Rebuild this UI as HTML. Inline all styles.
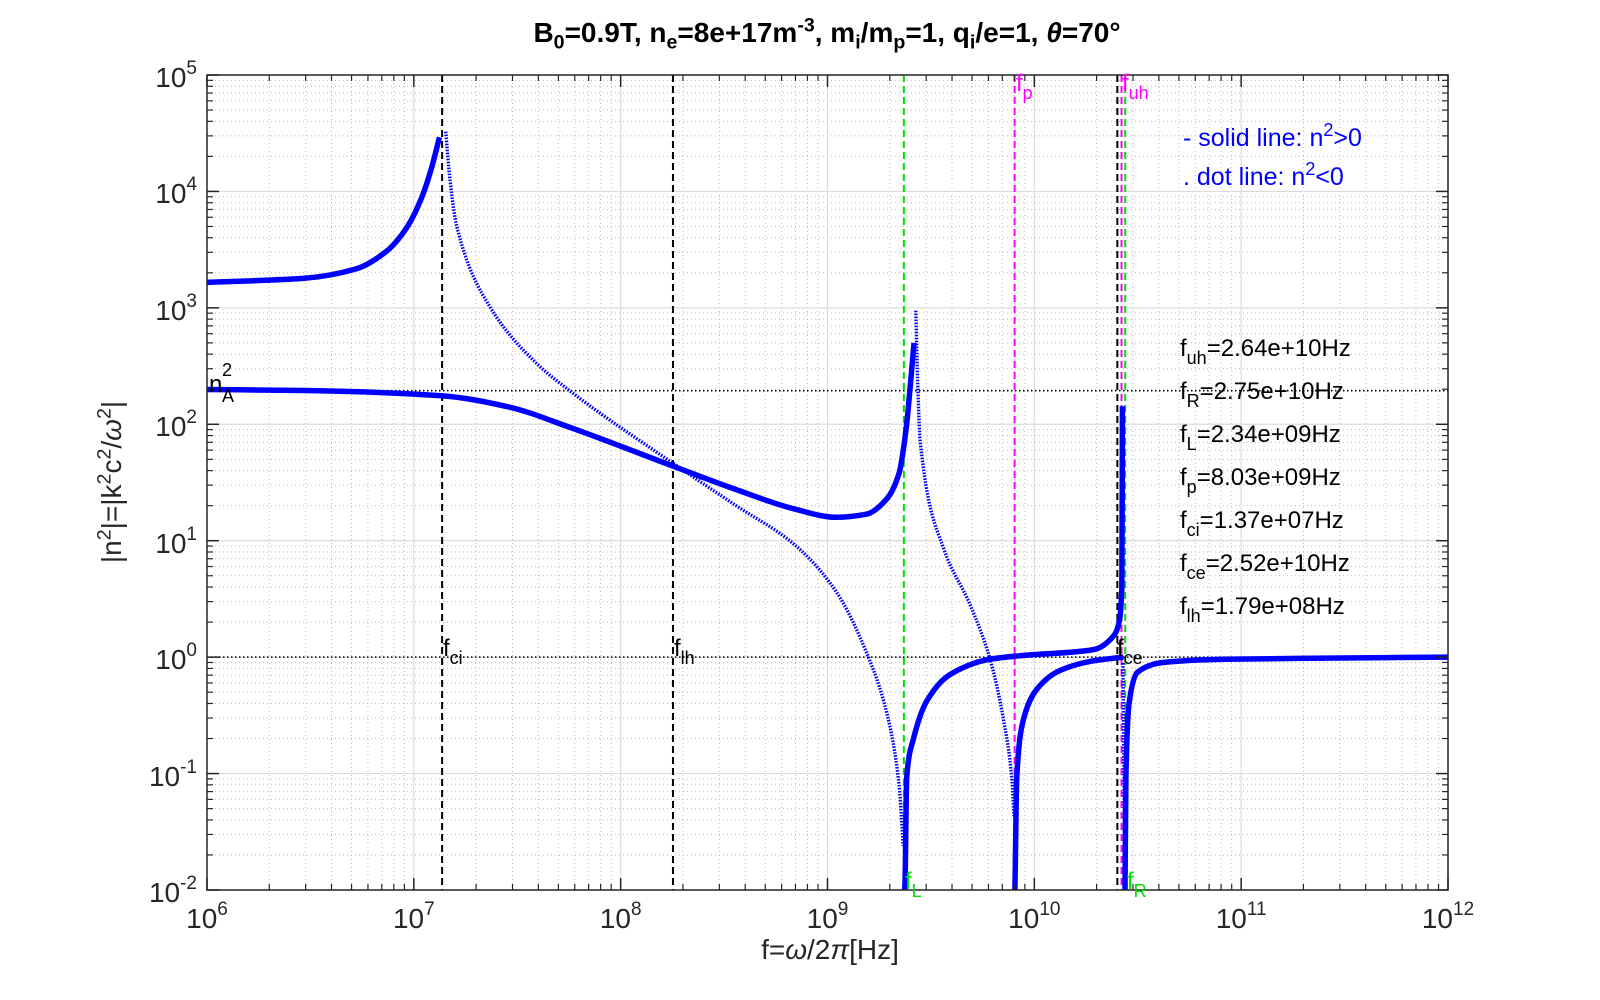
<!DOCTYPE html>
<html><head><meta charset="utf-8">
<style>
html,body{margin:0;padding:0;background:#fff;}
#wrap{position:relative;width:1600px;height:1000px;overflow:hidden;font-family:"Liberation Sans",Arial,sans-serif;color:#262626;}
.lbl{position:absolute;white-space:nowrap;line-height:1;}
sub,sup{font-size:70%;line-height:0;}
.tk{position:absolute;font-size:28px;white-space:nowrap;line-height:1;}
.tk sup{font-size:19px;vertical-align:13px;}
.ann{position:absolute;font-size:24px;white-space:nowrap;line-height:1;color:#000;}
.ann sub{font-size:18px;vertical-align:-8px;}
</style></head>
<body>
<div id="wrap">
<svg id="plot" width="1600" height="1000" style="position:absolute;left:0;top:0"></svg>

<div class="lbl" style="left:0;width:1654px;text-align:center;top:19px;font-size:28px;font-weight:bold;color:#000;">B<sub>0</sub>=0.9T, n<sub>e</sub>=8e+17m<sup>-3</sup>, m<sub>i</sub>/m<sub>p</sub>=1, q<sub>i</sub>/e=1, <i>θ</i>=70°</div>

<div class="lbl" style="left:0;width:1660px;text-align:center;top:936px;font-size:28px;">f=<i>ω</i>/2<i>π</i>[Hz]</div>
<div class="lbl" style="left:112px;top:482px;font-size:28px;transform:translate(-50%,-50%) rotate(-90deg);">|n<sup>2</sup>|=|k<sup>2</sup>c<sup>2</sup>/<i>ω</i><sup>2</sup>|</div>

<div class="ann" style="left:1183px;top:126px;color:#0000ff;font-size:25px;">- solid line: n<sup style="font-size:18px;vertical-align:10px">2</sup>&gt;0</div>
<div class="ann" style="left:1183px;top:165px;color:#0000ff;font-size:25px;">. dot line: n<sup style="font-size:18px;vertical-align:10px">2</sup>&lt;0</div>

<div class="ann" style="left:1180px;top:337px;">f<sub>uh</sub>=2.64e+10Hz</div>
<div class="ann" style="left:1180px;top:380px;">f<sub>R</sub>=2.75e+10Hz</div>
<div class="ann" style="left:1180px;top:423px;">f<sub>L</sub>=2.34e+09Hz</div>
<div class="ann" style="left:1180px;top:466px;">f<sub>p</sub>=8.03e+09Hz</div>
<div class="ann" style="left:1180px;top:509px;">f<sub>ci</sub>=1.37e+07Hz</div>
<div class="ann" style="left:1180px;top:552px;">f<sub>ce</sub>=2.52e+10Hz</div>
<div class="ann" style="left:1180px;top:595px;">f<sub>lh</sub>=1.79e+08Hz</div>

<div class="ann" style="left:209px;top:373px;">n<span style="position:absolute;left:13px;top:-12px;font-size:18px;">2</span><span style="position:absolute;left:13px;top:14px;font-size:18px;">A</span></div>

<div class="ann" style="left:443px;top:637px;">f<sub>ci</sub></div>
<div class="ann" style="left:674px;top:637px;">f<sub>lh</sub></div>
<div class="ann" style="left:1117px;top:637px;">f<sub>ce</sub></div>
<div class="ann" style="left:905px;top:870px;color:#00dd00;">f<sub>L</sub></div>
<div class="ann" style="left:1127px;top:870px;color:#00dd00;">f<sub>R</sub></div>
<div class="ann" style="left:1016px;top:72px;color:#ff00ff;">f<sub>p</sub></div>
<div class="ann" style="left:1122px;top:72px;color:#ff00ff;">f<sub>uh</sub></div>

<div id="ticks"></div>
</div>

<script>
// ---- data ----
const xTickExp = [6,7,8,9,10,11,12];
const yTickExp = [5,4,3,2,1,0,-1,-2];
const resonanceF = [1.37e7, 1.79e8, 2.34e9, 8.03e9, 2.52e10, 2.64e10, 2.75e10];
const resonanceColor = ['#000','#000','#00e000','#ff00ff','#000','#ff00ff','#00e000'];
const refN2 = [194, 1];

const b1F = [1e6, 2.95e6, 5.21e6, 7.33e6, 9.20e6, 1.091e7, 1.222e7, 1.33e7];
const b1N = [1655, 1795, 2150, 3035, 4830, 8850, 16250, 29200];
const b2F = [1e6, 2.95e6, 1.355e7, 2.87e7, 5.69e7, 1.774e8, 3.51e8, 6.95e8, 1.096e9, 1.542e9, 1.936e9, 2.218e9, 2.404e9, 2.512e9, 2.62e9];
const b2N = [199, 195, 176, 141, 94, 44, 28, 18.7, 15.9, 16.9, 22.9, 38, 94, 211, 500];
const b3F = [1.426e7, 1.496e7, 1.614e7, 2.333e7, 3.926e7, 5.902e7, 1.799e8, 3.51e8, 6.95e8, 1.096e9, 1.542e9, 1.936e9, 2.218e9, 2.323e9];
const b3N = [32600, 12500, 4980, 1020, 333, 184, 46, 20.7, 9.2, 3.7, 1.1, 0.33, 0.08, 0.024];
const b4F = [2.673e9, 2.723e9, 2.805e9, 3.639e9, 4.898e9, 6.109e9, 7.096e9, 7.780e9, 7.980e9];
const b4N = [946, 261, 72, 8.6, 2.8, 0.96, 0.29, 0.092, 0.043];
const b5F = [2.347e9, 2.371e9, 2.415e9, 2.600e9, 3.020e9, 3.917e9, 6.109e9, 9.204e9, 1.932e10, 2.415e10, 2.553e10, 2.649e10, 2.667e10];
const b5N = [0.008, 0.012, 0.092, 0.197, 0.42, 0.71, 0.96, 1.04, 1.16, 1.52, 1.9, 4.06, 143];
const b6F = [8.035e9, 8.07e9, 8.22e9, 8.85e9, 1.028e10, 1.334e10, 1.932e10, 2.698e10];
const b6N = [0.008, 0.012, 0.092, 0.29, 0.53, 0.77, 0.93, 1.0];
const b7F = [2.742e10, 2.773e10, 2.871e10, 3.148e10, 4.178e10, 8.28e10, 2.58e11, 1e12];
const b7N = [0.008, 0.098, 0.40, 0.74, 0.90, 0.96, 0.98, 1.0];
const b8F = [2.68e10, 2.70e10, 2.72e10, 2.73e10];
const b8N = [0.89, 0.25, 0.05, 0.008];

// ---- axes ----
const L=207, R=1448, T=75, B=890;
const xMin=6, xMax=12, yMin=-2, yMax=5;
function xs(f){ return L + (Math.log10(f)-xMin)/(xMax-xMin)*(R-L); }
function ys(n){ return B - (Math.log10(n)-yMin)/(yMax-yMin)*(B-T); }
function xe(e){ return L + (e-xMin)/(xMax-xMin)*(R-L); }
function ye(e){ return B - (e-yMin)/(yMax-yMin)*(B-T); }

const NS='http://www.w3.org/2000/svg';
const svg=document.getElementById('plot');
function mk(tag, attrs, parent){
  const el=document.createElementNS(NS,tag);
  for(const k in attrs) el.setAttribute(k, attrs[k]);
  (parent||svg).appendChild(el);
  return el;
}
const defs=mk('defs',{});
const cp=mk('clipPath',{id:'clip'},defs);
mk('rect',{x:L,y:T,width:R-L,height:B-T},cp);

mk('rect',{x:L,y:T,width:R-L,height:B-T,fill:'#fff'});

// grid
const grid=mk('g',{});


for(let e=xMin;e<xMax;e++){
  for(let m=2;m<=9;m++){
    const x=xs(m*Math.pow(10,e));
    mk('line',{x1:x,x2:x,y1:T,y2:B,stroke:'#bbb','stroke-width':1,'stroke-dasharray':'1 3'},grid);
  }
}
for(let e=yMin;e<yMax;e++){
  for(let m=2;m<=9;m++){
    const y=ys(m*Math.pow(10,e));
    mk('line',{x1:L,x2:R,y1:y,y2:y,stroke:'#bbb','stroke-width':1,'stroke-dasharray':'1 3'},grid);
  }
}
xTickExp.forEach(e=>{ const x=xe(e); mk('line',{x1:x,x2:x,y1:T,y2:B,stroke:'#dcdcdc','stroke-width':1.2},grid); });
yTickExp.forEach(e=>{ const y=ye(e); mk('line',{x1:L,x2:R,y1:y,y2:y,stroke:'#dcdcdc','stroke-width':1.2},grid); });

// reference horizontal lines
refN2.forEach(n=>{
  const ln=mk('line',{x1:L,x2:R,y1:ys(n),y2:ys(n),stroke:'#000','stroke-width':1.5,'stroke-dasharray':'1.5 2.5'});
  
  
});

// resonance/cutoff vertical lines
resonanceF.forEach((f,i)=>{
  const x=xs(f);
  const ln=mk('line',{x1:x,x2:x,y1:T,y2:B,stroke:resonanceColor[i],'stroke-width':2,'stroke-dasharray':'7 4'});
  
  
});

// monotone cubic path through screen points
function smoothPath(X,Y){
  const n=X.length;
  if(n<3){ return 'M'+X.map((x,i)=>x.toFixed(2)+','+Y[i].toFixed(2)).join(' L'); }
  const d=[],m=new Array(n);
  for(let i=0;i<n-1;i++) d.push((Y[i+1]-Y[i])/(X[i+1]-X[i]));
  m[0]=d[0]; m[n-1]=d[n-2];
  for(let i=1;i<n-1;i++){
    if(d[i-1]*d[i]<=0) m[i]=0;
    else { const w1=2*(X[i+1]-X[i])+(X[i]-X[i-1]), w2=(X[i+1]-X[i])+2*(X[i]-X[i-1]);
      m[i]=(w1+w2)/(w1/d[i-1]+w2/d[i]); }
  }
  let s='M'+X[0].toFixed(2)+','+Y[0].toFixed(2);
  for(let i=0;i<n-1;i++){
    const h=X[i+1]-X[i];
    s+=' C'+(X[i]+h/3).toFixed(2)+','+(Y[i]+m[i]*h/3).toFixed(2)+' '+
       (X[i+1]-h/3).toFixed(2)+','+(Y[i+1]-m[i+1]*h/3).toFixed(2)+' '+
       X[i+1].toFixed(2)+','+Y[i+1].toFixed(2);
  }
  return s;
}

// series
function series(F,N,dotted,name){
  const X=F.map(xs), Y=N.map(ys);
  const attrs={d:smoothPath(X,Y),fill:'none',stroke:'#0000ff','clip-path':'url(#clip)','stroke-linejoin':'round'};
  if(dotted){attrs['stroke-width']=3.4;attrs['stroke-dasharray']='1.6 1.4';}
  else {attrs['stroke-width']=5.5;}
  const p=mk('path',attrs);
  
  
}
series(b3F,b3N,true,'branch-3-evanescent');
series(b4F,b4N,true,'branch-4-evanescent');
series(b8F,b8N,true,'branch-8-evanescent');
series(b1F,b1N,false,'branch-1-propagating');
series(b2F,b2N,false,'branch-2-propagating');
series(b5F,b5N,false,'branch-5-propagating');
series(b6F,b6N,false,'branch-6-propagating');
series(b7F,b7N,false,'branch-7-propagating');

// axes box and ticks
const ax=mk('g',{});


mk('rect',{x:L,y:T,width:R-L,height:B-T,fill:'none',stroke:'#262626','stroke-width':1.5},ax);
xTickExp.forEach(e=>{ const x=xe(e);
  mk('line',{x1:x,x2:x,y1:B,y2:B-12,stroke:'#262626','stroke-width':1.5},ax);
  mk('line',{x1:x,x2:x,y1:T,y2:T+12,stroke:'#262626','stroke-width':1.5},ax);
  if(e<xMax) for(let m=2;m<=9;m++){ const xm=xs(m*Math.pow(10,e));
    mk('line',{x1:xm,x2:xm,y1:B,y2:B-6,stroke:'#262626','stroke-width':1.2},ax);
    mk('line',{x1:xm,x2:xm,y1:T,y2:T+6,stroke:'#262626','stroke-width':1.2},ax);}
});
yTickExp.forEach(e=>{ const y=ye(e);
  mk('line',{x1:L,x2:L+12,y1:y,y2:y,stroke:'#262626','stroke-width':1.5},ax);
  mk('line',{x1:R,x2:R-12,y1:y,y2:y,stroke:'#262626','stroke-width':1.5},ax);
  if(e<yMax) for(let m=2;m<=9;m++){ const ym=ys(m*Math.pow(10,e));
    mk('line',{x1:L,x2:L+6,y1:ym,y2:ym,stroke:'#262626','stroke-width':1.2},ax);
    mk('line',{x1:R,x2:R-6,y1:ym,y2:ym,stroke:'#262626','stroke-width':1.2},ax);}
});

// tick labels
const tk=document.getElementById('ticks');
xTickExp.forEach(e=>{
  const d=document.createElement('div');
  d.className='tk';
  
  
  d.innerHTML='10<sup>'+e+'</sup>';
  d.style.left=xe(e)+'px'; d.style.top='905px'; d.style.transform='translateX(-50%)';
  tk.appendChild(d);
});
yTickExp.forEach(e=>{
  const d=document.createElement('div');
  d.className='tk';
  
  
  d.innerHTML='10<sup>'+e+'</sup>';
  d.style.right=(1600-197)+'px'; d.style.top=(ye(e)-11)+'px';
  tk.appendChild(d);
});
</script>
</body></html>
